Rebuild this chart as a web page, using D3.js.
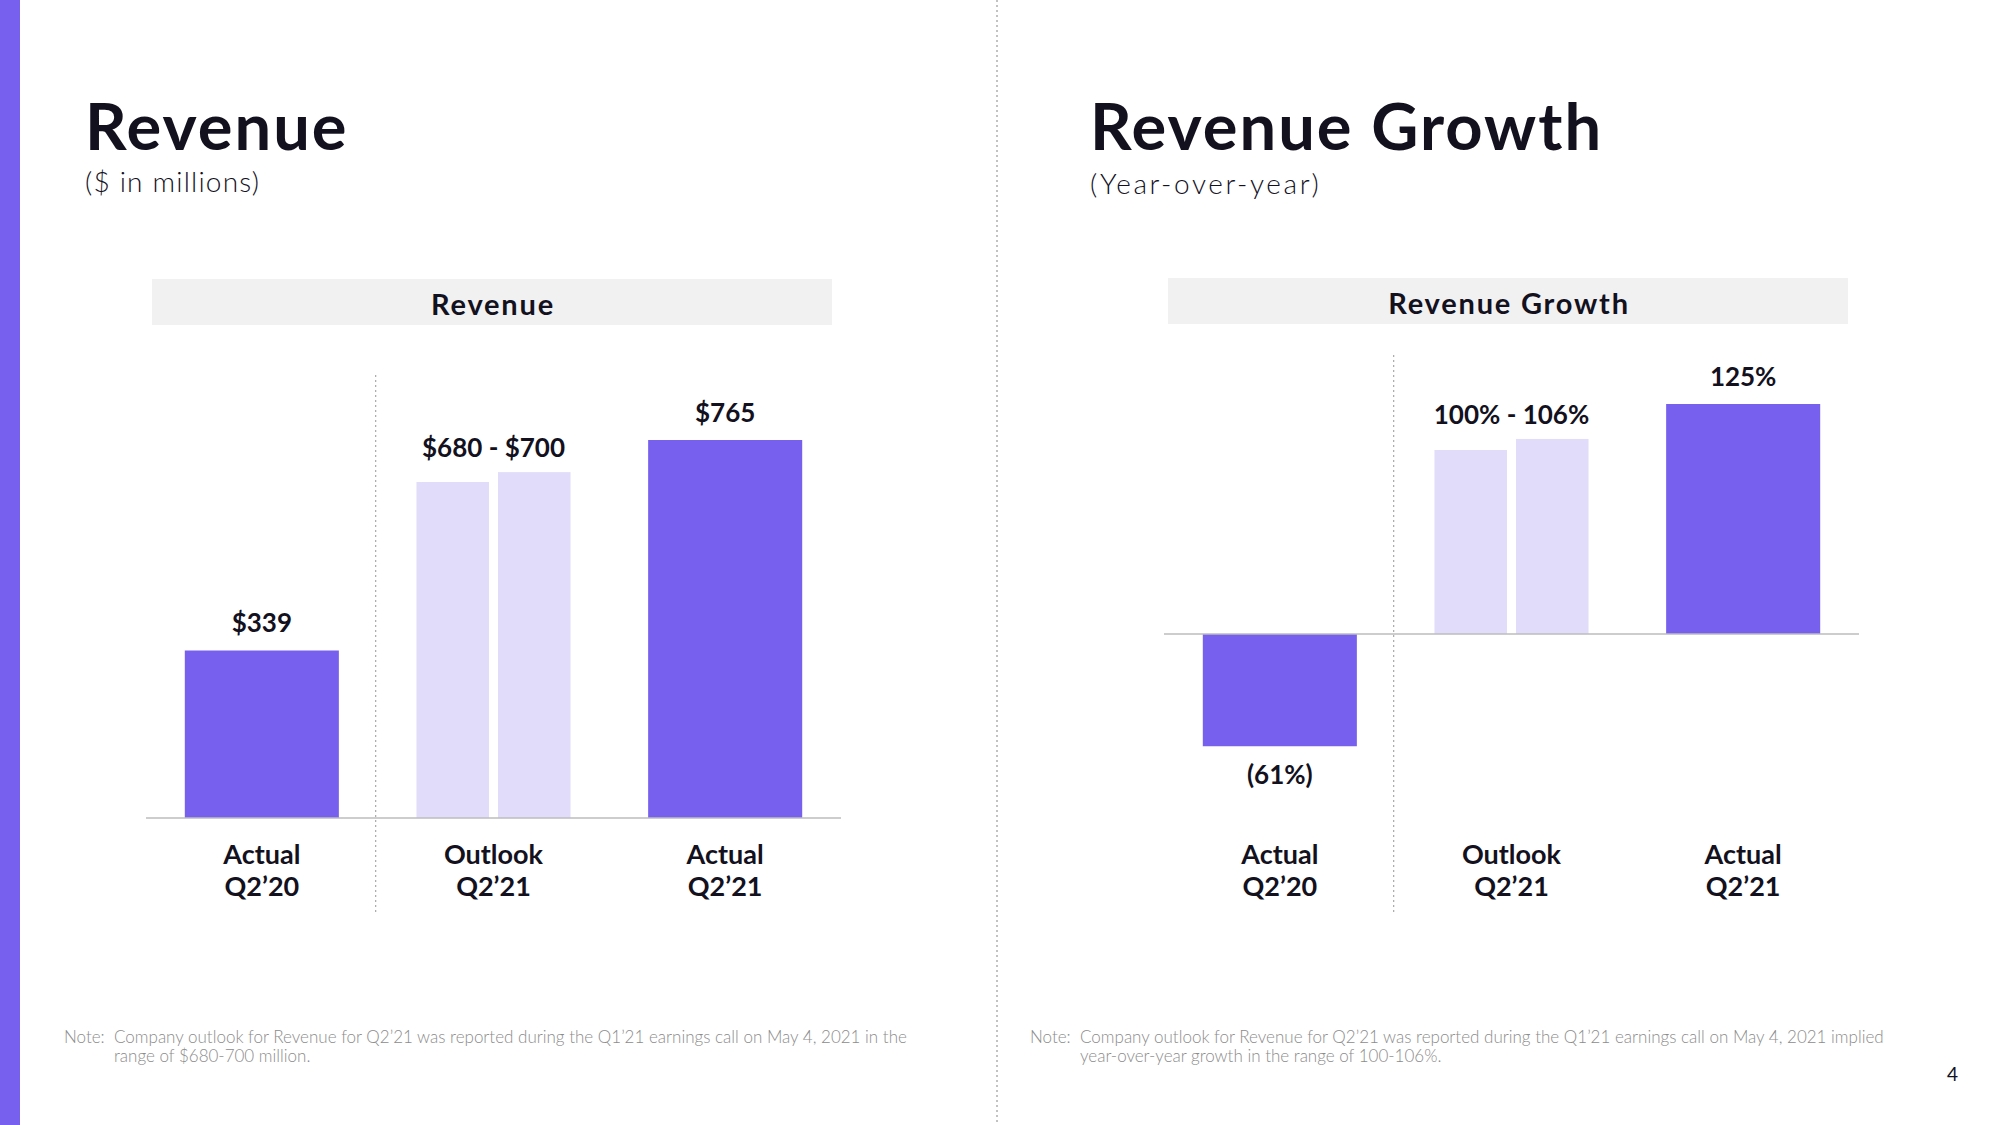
<!DOCTYPE html>
<html>
<head>
<meta charset="utf-8">
<script src="https://cdn.jsdelivr.net/npm/d3@7"></script>
<style>
  html, body { margin: 0; padding: 0; background: #fff; }
  svg { display: block; font-family: Lato, "Noto Sans", sans-serif; }
</style>
</head>
<body>
<svg id="chart" width="2000" height="1125"></svg>
<script>
// ---------- data ----------
const categoryLine1 = ["Actual", "Outlook", "Actual"];
const categoryLine2 = ["Q2\u201920", "Q2\u201921", "Q2\u201921"];
const barKinds = ["actual", "outlook", "actual"];

const revenueValues = [[339], [680, 700], [765]];
const revenueLabels = ["$339", "$680 - $700", "$765"];

const growthValues = [[-61], [100, 106], [125]];
const growthLabels = ["(61%)", "100% - 106%", "125%"];

const noteLeft = ["Note:", "Company outlook for Revenue for Q2\u201921 was reported during the Q1\u201921 earnings call on May 4, 2021 in the", "range of $680-700 million."];
const noteRight = ["Note:", "Company outlook for Revenue for Q2\u201921 was reported during the Q1\u201921 earnings call on May 4, 2021 implied", "year-over-year growth in the range of 100-106%."];

// ---------- style ----------
const PURPLE = "#7760EE";
const LIGHT = "#E1DCF9";
const INK = "#13111E";
const GRAY = "#8C8C8C";

const svg = d3.select("#chart");
svg.append("rect").attr("width", 2000).attr("height", 1125).attr("fill", "#fff");
// left stripe
svg.append("rect").attr("x", 0).attr("y", 0).attr("width", 20).attr("height", 1125).attr("fill", PURPLE);
// central dotted divider
svg.append("line").attr("x1", 997).attr("x2", 997).attr("y1", 0).attr("y2", 1125)
  .attr("stroke", "#9a9a9a").attr("stroke-width", 1.2).attr("stroke-dasharray", "2,3");

// page titles
function pageTitle(x, title, sub, subSpacing, subY) {
  svg.append("text").attr("x", x).attr("y", 150).attr("fill", INK)
    .attr("font-size", 65).attr("font-weight", 700).attr("letter-spacing", 2).text(title);
  svg.append("text").attr("x", x).attr("y", subY).attr("fill", INK)
    .attr("font-size", 28).attr("font-weight", 300).attr("letter-spacing", subSpacing).text(sub);
}
pageTitle(85, "Revenue", "($ in millions)", 1.2, 192);
pageTitle(1090, "Revenue Growth", "(Year-over-year)", 2.6, 194);

function panel(opts) {
  const g = svg.append("g");
  // header
  g.append("rect").attr("x", opts.headerX[0]).attr("y", opts.headerY)
    .attr("width", opts.headerX[1] - opts.headerX[0]).attr("height", 46).attr("fill", "#F1F1F1");
  g.append("text").attr("x", (opts.headerX[0] + opts.headerX[1]) / 2 + 1).attr("y", opts.headerY + 36)
    .attr("text-anchor", "middle").attr("font-size", 29).attr("font-weight", 700).attr("fill", INK)
    .attr("letter-spacing", 1.8).text(opts.header);

  const x = d3.scaleBand().domain(d3.range(categoryLine1.length)).range(opts.xRange).padding(0);
  const y = d3.scaleLinear().domain([0, opts.refValue]).range([opts.zeroY, opts.refY]);
  const barW = x.bandwidth() * 0.665;
  const gap = 9;

  // divider between first and second group
  g.append("line").attr("x1", x(1) - 2).attr("x2", x(1) - 2)
    .attr("y1", opts.divY[0]).attr("y2", opts.divY[1])
    .attr("stroke", "#a8a8a8").attr("stroke-width", 1.2).attr("stroke-dasharray", "2,3");

  opts.values.forEach((vals, i) => {
    const cx = x(i) + x.bandwidth() / 2;
    const n = vals.length;
    const w = (barW - gap * (n - 1)) / n;
    vals.forEach((v, j) => {
      const bx = cx - barW / 2 + j * (w + gap);
      g.append("rect")
        .attr("x", bx).attr("width", w)
        .attr("y", Math.min(y(v), y(0)))
        .attr("height", Math.abs(y(v) - y(0)))
        .attr("fill", barKinds[i] === "actual" ? PURPLE : LIGHT);
    });
    const maxV = d3.max(vals), minV = d3.min(vals);
    let ly;
    if (minV < 0) ly = y(minV) + 38;
    else ly = y(maxV) - (barKinds[i] === "actual" ? 18 : 15);
    g.append("text").attr("x", cx).attr("y", ly).attr("text-anchor", "middle")
      .attr("font-size", 26).attr("font-weight", 700).attr("fill", INK)
      .text(opts.labels[i]);
    g.append("text").attr("x", cx).attr("y", 864).attr("text-anchor", "middle")
      .attr("font-size", 27).attr("font-weight", 700).attr("fill", INK).text(categoryLine1[i]);
    g.append("text").attr("x", cx).attr("y", 896).attr("text-anchor", "middle")
      .attr("font-size", 27).attr("font-weight", 700).attr("fill", INK).text(categoryLine2[i]);
  });

  // baseline
  g.append("line").attr("x1", opts.xRange[0]).attr("x2", opts.xRange[1])
    .attr("y1", y(0)).attr("y2", y(0)).attr("stroke", "#BDBDBD").attr("stroke-width", 1.3);

  // note
  const nt = g.append("text").attr("font-size", 17).attr("font-weight", 300).attr("fill", GRAY);
  nt.append("tspan").attr("x", opts.noteX).attr("y", 1043).text(opts.note[0]);
  nt.append("tspan").attr("x", opts.noteX + 50).attr("y", 1043).text(opts.note[1]);
  nt.append("tspan").attr("x", opts.noteX + 50).attr("y", 1062).text(opts.note[2]);
}

panel({
  header: "Revenue", headerX: [152, 832], headerY: 279,
  xRange: [146, 841], zeroY: 818, refValue: 765, refY: 440,
  divY: [375, 913], values: revenueValues, labels: revenueLabels,
  note: noteLeft, noteX: 64
});
panel({
  header: "Revenue Growth", headerX: [1168, 1848], headerY: 278,
  xRange: [1164, 1859], zeroY: 634, refValue: 125, refY: 404,
  divY: [355, 912], values: growthValues, labels: growthLabels,
  note: noteRight, noteX: 1030
});

svg.append("text").attr("x", 1958).attr("y", 1081).attr("text-anchor", "end")
  .attr("font-size", 19).attr("font-weight", 400).attr("fill", INK).text("4");
</script>
</body>
</html>
